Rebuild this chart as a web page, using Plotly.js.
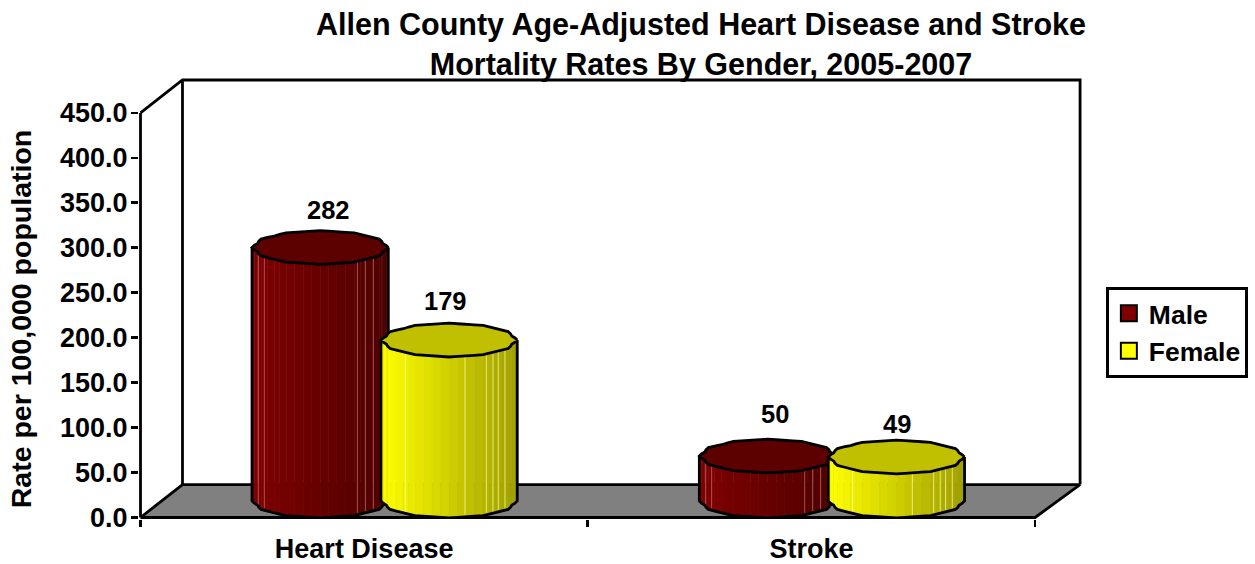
<!DOCTYPE html>
<html>
<head>
<meta charset="utf-8">
<script src="https://cdn.plot.ly/plotly-3.0.1.min.js"></script>
<style>html,body{margin:0;padding:0;background:#fff;overflow:hidden}#chart{width:1255px;height:564px}</style>
</head>
<body>
<div id="chart"></div>
<script>
// ---- data ----
const categories = ['Heart Disease', 'Stroke'];
const seriesNames = ['Male', 'Female'];
const maleValues = [282, 50];
const femaleValues = [179, 49];
const yTickValues = [0, 50, 100, 150, 200, 250, 300, 350, 400, 450];
const yTickLabels = ['0.0', '50.0', '100.0', '150.0', '200.0', '250.0', '300.0', '350.0', '400.0', '450.0'];

// ---- geometry of the pseudo-3D box, in axis units ----
const FONT = 'Liberation Sans, Arial, sans-serif';
const XPX = 447.5, YPX = 0.9;           // pixels per axis unit
const DX = 41 / XPX, DY = 33 / YPX;     // depth of the box and of the cylinder offset
const BACK_L = 42 / XPX;                // left edge of the back wall
const BACK_R = 940 / XPX;               // right edge of the back wall
const BAR_OFF = 64.5 / XPX;             // distance of a bar from its category centre
const RX = 66.5 / XPX, RY = 16.5 / YPX; // ellipse radii of a cylinder
const N = 48;                           // facets round a cylinder
const LW = 2.8;
const M = {l: 138.5, r: 0, t: 71, b: 44.5};
const PW = 1255 - M.l - M.r, PH = 564 - M.t - M.b;

const styles = [
  {body: [[128, 0, 0], [78, 0, 0]], top: '#5c0000', hi: 'rgba(190,110,110,0.75)', marks: [0.035, 0.08, 0.78, 0.84, 0.9]},
  {body: [[255, 255, 0], [160, 160, 0]], top: '#c0c000', hi: 'rgba(255,255,170,0.7)', marks: [0.17, 0.62, 0.78, 0.83, 0.87, 0.92]}
];
const labelShift = [[[8, -38], [8, -42]], [[-4, -39], [1, -33]]];

function pt(cx, cy, k) {
  const a = k / N * 2 * Math.PI, w = 1 + 0.025 * Math.cos(12 * a);
  return [cx + RX * w * Math.cos(a), cy + RY * w * Math.sin(a)];
}
const traces = [];
const base = {type: 'scatter', mode: 'lines', showlegend: false, hoverinfo: 'skip', cliponaxis: false};

// floor and back wall
traces.push(Object.assign({}, base, {
  x: [0, BACK_L, BACK_R, 2, 0], y: [0, DY, DY, 0, 0], fill: 'toself', fillcolor: '#808080',
  line: {color: '#000', width: LW}
}));
traces.push(Object.assign({}, base, {
  x: [0, BACK_L, BACK_R, BACK_R, null, BACK_L, BACK_L, null, 0, 0],
  y: [450, 450 + DY, 450 + DY, DY, null, 450 + DY, DY, null, 0, 450],
  line: {color: '#000', width: LW}
}));

// legend carriers: sit under the cylinder tops
[maleValues, femaleValues].forEach((vals, s) => {
  traces.push({
    type: 'scatter', mode: 'markers', name: seriesNames[s], hoverinfo: 'skip', cliponaxis: false,
    x: categories.map((_, i) => i + 0.5 + (s ? BAR_OFF : -BAR_OFF) + DX / 2),
    y: vals.map(v => v + DY / 2),
    marker: {symbol: 'square', size: 16, color: 'rgb(' + styles[s].body[0].join(',') + ')', line: {color: '#000', width: 2}}
  });
});

// cylinders
const annotations = [];
categories.forEach((cat, i) => {
  [maleValues, femaleValues].forEach((vals, s) => {
    const st = styles[s], v = vals[i];
    const cx = i + 0.5 + (s ? BAR_OFF : -BAR_OFF) + DX / 2;
    const y0 = DY / 2, y1 = v + DY / 2;
    // shaded strips of the front face
    for (let k = N / 2; k < N; k++) {
      const p = pt(cx, y0, k), q = pt(cx, y0, k + 1), pT = pt(cx, y1, k), qT = pt(cx, y1, k + 1);
      const t = ((p[0] + q[0]) / 2 - (cx - RX)) / (2 * RX);
      const c = st.body[0].map((c0, j) => Math.round(c0 + (st.body[1][j] - c0) * t));
      const col = 'rgb(' + c.join(',') + ')';
      traces.push(Object.assign({}, base, {
        x: [p[0], q[0], qT[0], pT[0], p[0]], y: [p[1], q[1], qT[1], pT[1], p[1]],
        fill: 'toself', fillcolor: col, line: {color: col, width: 0.6}
      }));
    }
    // thin highlights
    const hx = [], hy = [];
    st.marks.forEach(m => {
      const x = cx - RX + 2 * RX * m, a = Math.sqrt(1 - Math.pow((x - cx) / RX, 2)) * RY;
      hx.push(x, x, null); hy.push(y0 - a + 2, y1 - a, null);
    });
    traces.push(Object.assign({}, base, {x: hx, y: hy, line: {color: st.hi, width: 1}}));
    // outline of the sides and the base
    const ox = [], oy = [];
    ox.push(pt(cx, y1, N / 2)[0]); oy.push(y1);
    for (let k = N / 2; k <= N; k++) {
      const p = pt(cx, y0, k); ox.push(p[0]); oy.push(p[1]);
    }
    ox.push(pt(cx, y1, 0)[0]); oy.push(y1);
    traces.push(Object.assign({}, base, {x: ox, y: oy, line: {color: '#000', width: LW}}));
    // top ellipse
    const tx = [], ty = [];
    for (let k = 0; k <= N; k++) { const p = pt(cx, y1, k); tx.push(p[0]); ty.push(p[1]); }
    traces.push(Object.assign({}, base, {x: tx, y: ty, fill: 'toself', fillcolor: st.top, line: {color: '#000', width: LW}}));
    annotations.push({
      x: cx, y: y1, xref: 'x', yref: 'y', text: String(v), showarrow: false,
      xshift: labelShift[s][i][0], yshift: -labelShift[s][i][1],
      font: {family: FONT, size: 25.5, color: '#000', weight: 'bold'}
    });
  });
});
annotations.push({
  xref: 'paper', yref: 'paper', x: (20 - M.l) / PW, y: 1 - (319 - M.t) / PH,
  text: 'Rate per 100,000 population', textangle: -90, showarrow: false,
  xanchor: 'center', yanchor: 'middle',
  font: {family: FONT, size: 28.5, color: '#000', weight: 'bold'}
});

const layout = {
  width: 1255, height: 564, autosize: false,
  margin: {l: M.l, r: M.r, t: M.t, b: M.b, pad: 0},
  paper_bgcolor: '#fff', plot_bgcolor: '#fff',
  title: {
    text: 'Allen County Age-Adjusted Heart Disease and Stroke<br>Mortality Rates By Gender, 2005-2007',
    x: 701 / 1255, xanchor: 'center', y: 1 - 35 / 564, yanchor: 'top',
    font: {family: FONT, size: 30.5, color: '#000', weight: 'bold'}
  },
  xaxis: {
    range: [-1.5 / XPX, (PW - 1.5) / XPX], showgrid: false, zeroline: false, showline: false,
    tickmode: 'array', tickvals: categories.map((_, i) => i + 0.5), ticktext: categories,
    ticks: '', ticklabelstandoff: 11,
    tickfont: {family: FONT, size: 27, color: '#000', weight: 'bold'},
    minor: {tickmode: 'array', tickvals: [0, 1, 2], ticks: 'outside', ticklen: 7, tickwidth: LW, tickcolor: '#000', showgrid: false}
  },
  yaxis: {
    range: [-1.5 / YPX, 447 / YPX], showgrid: false, zeroline: false, showline: false,
    tickmode: 'array', tickvals: yTickValues, ticktext: yTickLabels,
    ticks: 'outside', ticklen: 7, tickwidth: LW, tickcolor: '#000', ticklabelstandoff: -2,
    tickfont: {family: FONT, size: 27, color: '#000', weight: 'bold'}
  },
  legend: {
    x: (1106 - M.l) / PW, xanchor: 'left', y: 1 - (287 - M.t) / PH, yanchor: 'top',
    bgcolor: '#fff', bordercolor: '#000', borderwidth: 2.8,
    font: {family: FONT, size: 26.5, color: '#000', weight: 'bold'},
    itemclick: false, itemdoubleclick: false
  },
  annotations: annotations,
  showlegend: true
};
Plotly.newPlot('chart', traces, layout, {displayModeBar: false, staticPlot: true});
</script>
</body>
</html>
